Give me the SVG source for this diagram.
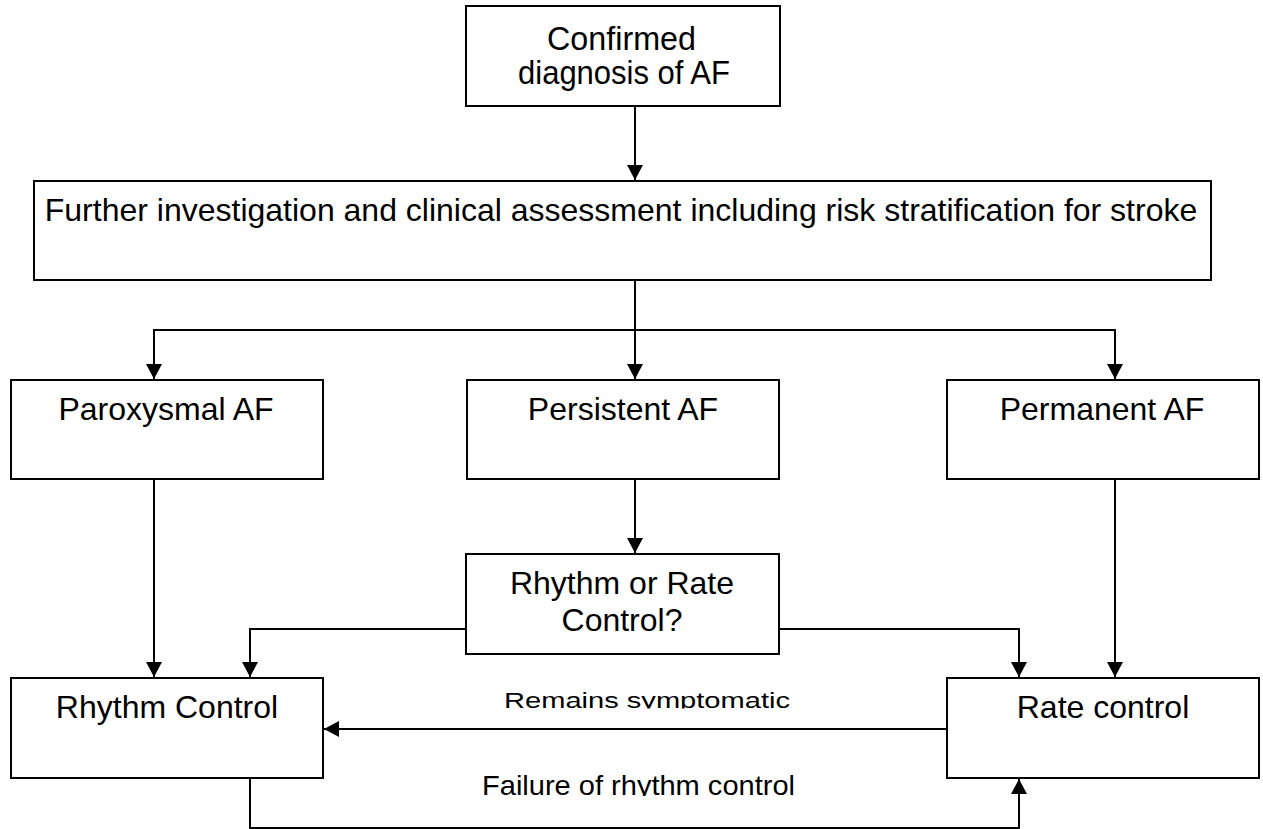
<svg xmlns="http://www.w3.org/2000/svg" width="1263" height="829" viewBox="0 0 1263 829">
  <style>
    .box { fill: #ffffff; stroke: #000000; stroke-width: 2; }
    .wire { fill: none; stroke: #000000; stroke-width: 2; }
    .lbl { font-family: "Liberation Sans", Arial, sans-serif; font-size: 32px; fill: #000000; text-anchor: middle; }
    .lbl-tall { font-family: "Liberation Sans", Arial, sans-serif; font-size: 33px; fill: #000000; }
    .edge-lbl { font-family: "Liberation Sans", Arial, sans-serif; fill: #000000; }
  </style>
  <defs>
    <marker id="arrow" viewBox="0 0 15 16" refX="15" refY="8" markerWidth="15" markerHeight="16" markerUnits="userSpaceOnUse" orient="auto">
      <path d="M0,0 L15,8 L0,16 Z" fill="#000000"/>
    </marker>
    <clipPath id="clipRemains"><rect x="480" y="680" width="340" height="28.5"/></clipPath>
    <clipPath id="clipFailure"><rect x="470" y="760" width="340" height="36"/></clipPath>
  </defs>
  <rect width="1263" height="829" fill="#ffffff"/>

  <g id="connectors">
    <line class="wire" x1="635" y1="106" x2="635" y2="180" marker-end="url(#arrow)"/>
    <line class="wire" x1="635" y1="280" x2="635" y2="379" marker-end="url(#arrow)"/>
    <polyline class="wire" points="635,330 154,330 154,379" marker-end="url(#arrow)"/>
    <polyline class="wire" points="635,330 1115,330 1115,379" marker-end="url(#arrow)"/>
    <line class="wire" x1="154" y1="479" x2="154" y2="677" marker-end="url(#arrow)"/>
    <line class="wire" x1="635" y1="479" x2="635" y2="553" marker-end="url(#arrow)"/>
    <line class="wire" x1="1115" y1="479" x2="1115" y2="677" marker-end="url(#arrow)"/>
    <polyline class="wire" points="466,629 250,629 250,677" marker-end="url(#arrow)"/>
    <polyline class="wire" points="779,629 1019,629 1019,677" marker-end="url(#arrow)"/>
    <line class="wire" x1="947" y1="729" x2="324" y2="729" marker-end="url(#arrow)"/>
    <polyline class="wire" points="250,778 250,828 1019,828 1019,779" marker-end="url(#arrow)"/>
    <g clip-path="url(#clipRemains)">
      <text class="edge-lbl" x="504" y="708" font-size="22.4" textLength="286" lengthAdjust="spacingAndGlyphs">Remains symptomatic</text>
    </g>
    <g clip-path="url(#clipFailure)">
      <text class="edge-lbl" x="482" y="795" font-size="28" textLength="313" lengthAdjust="spacingAndGlyphs">Failure of rhythm control</text>
    </g>
  </g>

  <g id="confirmed">
    <rect class="box" x="466" y="6" width="314" height="100"/>
    <text class="lbl-tall" x="547" y="49.5" textLength="149" lengthAdjust="spacingAndGlyphs">Confirmed</text>
    <text class="lbl-tall" x="518" y="84" textLength="212" lengthAdjust="spacingAndGlyphs">diagnosis of AF</text>
  </g>
  <g id="assessment">
    <rect class="box" x="34" y="181" width="1177" height="99"/>
    <text class="lbl" x="621" y="221">Further investigation and clinical assessment including risk stratification for stroke</text>
  </g>
  <g id="paroxysmal">
    <rect class="box" x="11" y="380" width="312" height="99"/>
    <text class="lbl" x="166" y="420">Paroxysmal AF</text>
  </g>
  <g id="persistent">
    <rect class="box" x="467" y="380" width="312" height="99"/>
    <text class="lbl" x="623" y="420">Persistent AF</text>
  </g>
  <g id="permanent">
    <rect class="box" x="947" y="380" width="312" height="99"/>
    <text class="lbl" x="1102" y="420">Permanent AF</text>
  </g>
  <g id="decision">
    <rect class="box" x="466" y="554" width="313" height="100"/>
    <text class="lbl" x="622" y="594">Rhythm or Rate</text>
    <text class="lbl" x="622" y="631">Control?</text>
  </g>
  <g id="rhythm-control">
    <rect class="box" x="11" y="678" width="312" height="100"/>
    <text class="lbl" x="167" y="718">Rhythm Control</text>
  </g>
  <g id="rate-control">
    <rect class="box" x="947" y="678" width="312" height="100"/>
    <text class="lbl" x="1103" y="718">Rate control</text>
  </g>
</svg>
